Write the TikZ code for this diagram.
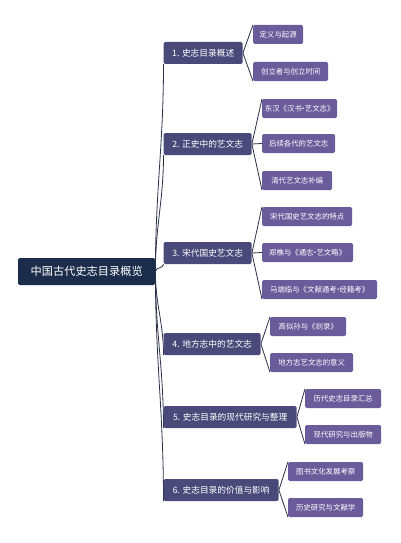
\documentclass[tikz,border=0pt]{standalone}
\usepackage{fontspec}
\usetikzlibrary{backgrounds}
\newfontfamily\cjk{Noto Sans CJK SC}
\newcommand\mdot{\kern-0.3em·\kern-0.3em}
\definecolor{rootcol}{HTML}{1B2D4A}
\definecolor{branchcol}{HTML}{4A4A7A}
\definecolor{childcol}{HTML}{6A5B9B}
\definecolor{linecol}{HTML}{2A3048}
\tikzset{
  rootbox/.style={fill=rootcol, text=white, rounded corners=1.5pt, anchor=west,
    minimum height=27pt, inner sep=0pt, font=\cjk\fontsize{11.2}{13}\selectfont},
  branchbox/.style={fill=branchcol, text=white, rounded corners=1.5pt, anchor=west,
    minimum height=22pt, inner sep=0pt, font=\cjk\fontsize{8.7}{10}\selectfont},
  childbox/.style={fill=childcol, text=white, rounded corners=1.5pt, anchor=west,
    minimum height=19pt, inner sep=0pt, font=\cjk\fontsize{7.4}{9}\selectfont},
  link/.style={draw=linecol, line width=0.8pt}
}
\begin{document}
\begin{tikzpicture}[x=1pt,y=-1pt]
% root
\node[rootbox, minimum width=137pt] (root) at (18,271.5) {中国古代史志目录概览};
% branches
\node[branchbox, minimum width=79pt]  (b1) at (163.5,53)  {1. 史志目录概述};
\node[branchbox, minimum width=88pt]  (b2) at (163.5,144) {2. 正史中的艺文志};
\node[branchbox, minimum width=88pt]  (b3) at (163.5,253) {3. 宋代国史艺文志};
\node[branchbox, minimum width=97pt]  (b4) at (163.5,344) {4. 地方志中的艺文志};
\node[branchbox, minimum width=133pt] (b5) at (163.5,417) {5. 史志目录的现代研究与整理};
\node[branchbox, minimum width=115pt] (b6) at (163.5,490) {6. 史志目录的价值与影响};
% children
\node[childbox, minimum width=50pt]  (c1a) at (253,34.5)  {定义与起源};
\node[childbox, minimum width=75pt]  (c1b) at (253,71.5)  {创立者与创立时间};
\node[childbox, minimum width=75pt]  (c2a) at (262,108.5) {东汉《汉书\mdot 艺文志》};
\node[childbox, minimum width=73pt]  (c2b) at (262,143.5) {后续各代的艺文志};
\node[childbox, minimum width=70pt]  (c2c) at (262,180.5) {清代艺文志补编};
\node[childbox, minimum width=90pt]  (c3a) at (262,216.5) {宋代国史艺文志的特点};
\node[childbox, minimum width=91pt]  (c3b) at (262,252.5) {郑樵与《通志\mdot 艺文略》};
\node[childbox, minimum width=115pt] (c3c) at (262,289.5) {马端临与《文献通考\mdot 经籍考》};
\node[childbox, minimum width=76pt]  (c4a) at (270,326.5) {高似孙与《剡录》};
\node[childbox, minimum width=83pt]  (c4b) at (270,362.5) {地方志艺文志的意义};
\node[childbox, minimum width=76pt]  (c5a) at (305,398.5) {历代史志目录汇总};
\node[childbox, minimum width=76pt]  (c5b) at (305,434.5) {现代研究与出版物};
\node[childbox, minimum width=75pt]  (c6a) at (288,471.5) {图书文化发展考察};
\node[childbox, minimum width=75pt]  (c6b) at (288,507.5) {历史研究与文献学};
% connectors (behind boxes)
\begin{scope}[on background layer]
\fill[white] (0,0) rectangle (400,543);
\draw[link] (root.east) to[out=90,in=-90] (b1.south west);
\draw[link] (root.east) to[out=90,in=-90] (b2.south west);
\draw[link] (root.east) to[out=90,in=-90] (b3.south west);
\draw[link] (root.east) to[out=-90,in=90] (b4.south west);
\draw[link] (root.east) to[out=-90,in=90] (b5.south west);
\draw[link] (root.east) to[out=-90,in=90] (b6.south west);
\draw[link] (b1.east) -- (c1a.north west);
\draw[link] (b1.east) -- (c1b.south west);
\draw[link] (b2.east) -- (c2a.north west);
\draw[link] (b2.east) -- (c2b.west);
\draw[link] (b2.east) -- (c2c.south west);
\draw[link] (b3.east) -- (c3a.north west);
\draw[link] (b3.east) -- (c3b.west);
\draw[link] (b3.east) -- (c3c.south west);
\draw[link] (b4.east) -- (c4a.north west);
\draw[link] (b4.east) -- (c4b.south west);
\draw[link] (b5.east) -- (c5a.north west);
\draw[link] (b5.east) -- (c5b.south west);
\draw[link] (b6.east) -- (c6a.north west);
\draw[link] (b6.east) -- (c6b.south west);
\end{scope}
\useasboundingbox (0,0) rectangle (400,543);
\end{tikzpicture}
\end{document}
